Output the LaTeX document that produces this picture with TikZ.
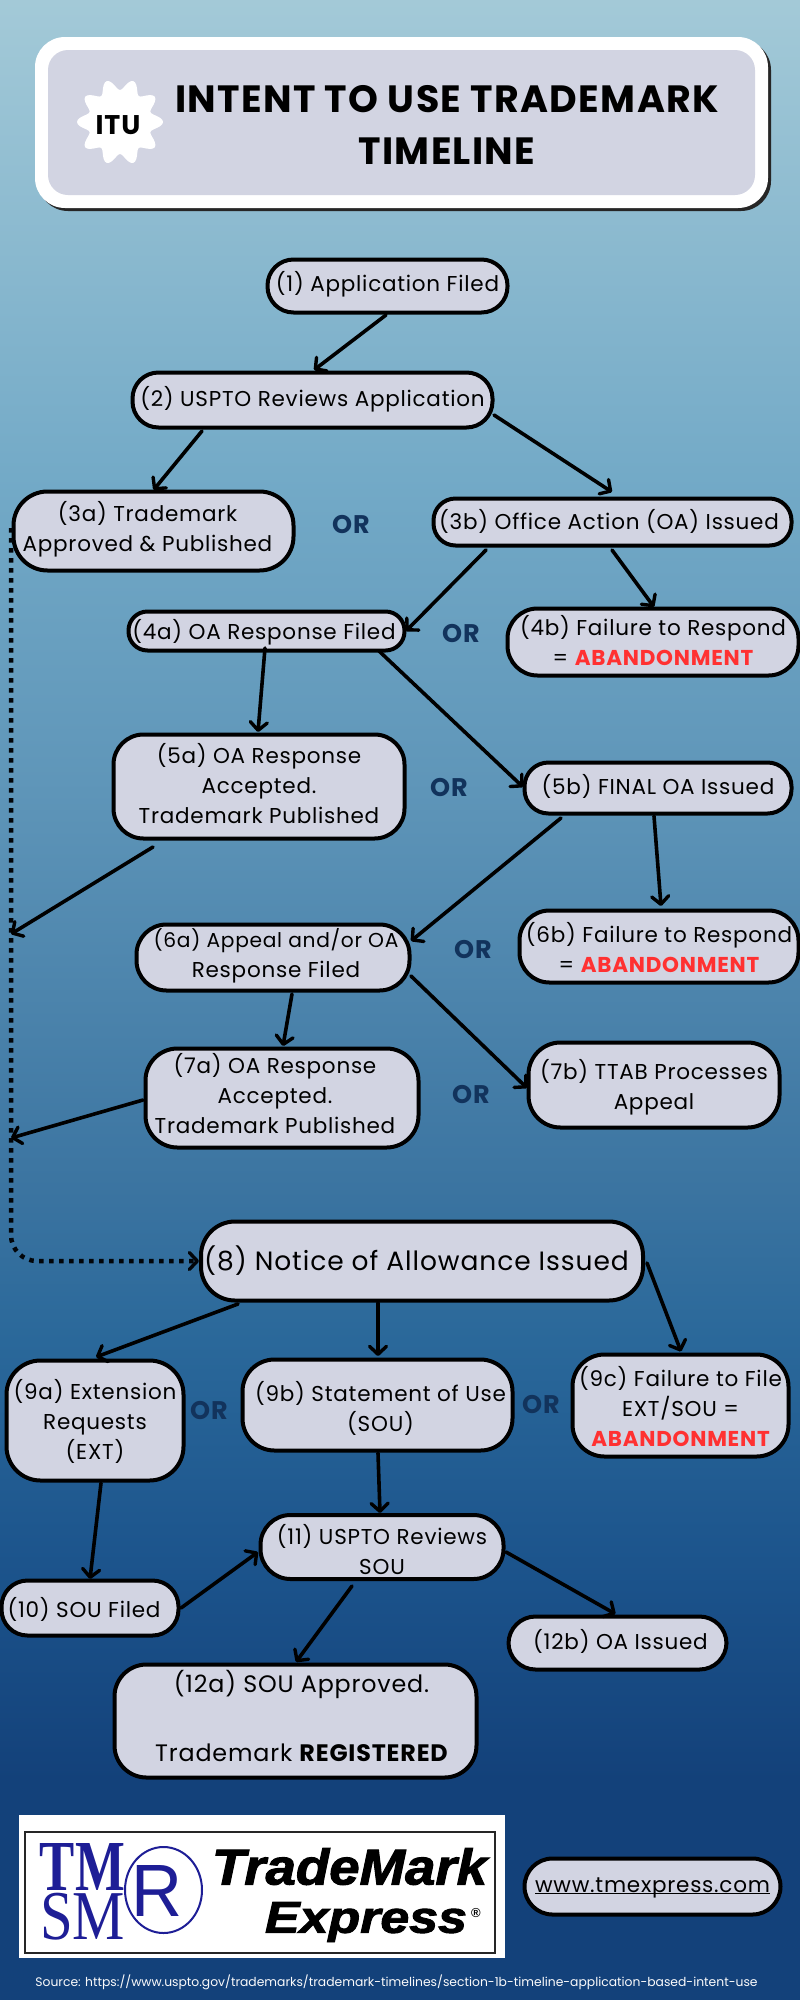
\documentclass[tikz,border=0pt]{standalone}
\usepackage{fontspec}
\usepackage{graphicx}
\setmainfont{Poppins}[LetterSpace=3.5]
\newfontfamily\plainpop{Poppins}
\newfontfamily\lgsans{Liberation Sans}
\newfontfamily\lgserif{Liberation Serif}
\usetikzlibrary{calc,arrows.meta}
\definecolor{boxfill}{HTML}{D2D4E2}
\definecolor{ornavy}{HTML}{12335C}
\definecolor{abred}{HTML}{FF3131}
\definecolor{logoblue}{HTML}{1E1E96}
\pgfdeclareverticalshading{bgshade}{100bp}{
 rgb(0bp)=(0.075,0.255,0.478);
 rgb(30.5bp)=(0.075,0.255,0.478);
 rgb(36bp)=(0.11,0.33,0.55);
 rgb(41.5bp)=(0.165,0.408,0.604);
 rgb(45bp)=(0.227,0.451,0.627);
 rgb(55.5bp)=(0.373,0.588,0.725);
 rgb(63bp)=(0.45,0.665,0.78);
 rgb(75bp)=(0.64,0.79,0.845);
 rgb(100bp)=(0.64,0.79,0.845)}
\tikzset{
 stepbox/.style={draw=black,line width=4pt,fill=boxfill,inner sep=0pt,align=center,text=black,text depth=10pt,
   font=\fontsize{21.5}{30}\selectfont},
 conn/.style={draw=black,line width=3.6pt,line cap=round,
   -{Straight Barb[length=8pt,width=17pt,line width=3.4pt,round]}},
 dotconn/.style={draw=black!90!ornavy,line width=4.5pt,dash pattern=on 4.5pt off 5.5pt,rounded corners=26pt,
   -{Straight Barb[length=8pt,width=17pt,line width=3.4pt,round]}},
 orlabel/.style={text=ornavy,font=\fontsize{25.5}{28}\selectfont\bfseries},
}
\newcommand{\dn}[1]{\rule{0pt}{\dimexpr 24pt+#1pt*2\relax}}
\newcommand{\hsh}[1]{\hspace*{\dimexpr #1pt*2\relax}}
\newcommand{\abn}{\textcolor{abred}{\bfseries ABANDONMENT}}
\begin{document}
\begin{tikzpicture}[x=1pt,y=-1pt]
\useasboundingbox (0,0) rectangle (800,2000);
\shade[shading=bgshade] (0,0) rectangle (800,2000);
% header
\fill[black!85,rounded corners=30pt] (38,40) rectangle (771,211);
\fill[white,rounded corners=30pt] (35,37) rectangle (768,208);
\fill[boxfill,rounded corners=20pt] (48,50) rectangle (755,195);
\fill[white] plot[domain=0:360,samples=121,smooth] ({120+(37.5+5.5*cos(10*\x))*cos(\x)},{122+(37.5+5.5*cos(10*\x))*sin(\x)});
\node[font=\fontsize{27}{30}\selectfont\bfseries,text=black,inner sep=0pt] (itu) at (118,125) {ITU};
\node[font=\fontsize{38}{52}\selectfont\bfseries,text=black,align=center,inner sep=0pt] (title) at (447,125) {INTENT TO USE TRADEMARK\\TIMELINE};
% nodes
\node[stepbox,rounded corners=26pt,minimum width=240pt,minimum height=53pt] (n1) at (387.5,286) {\dn{-2}(1) Application Filed};
\node[stepbox,rounded corners=26pt,minimum width=360pt,minimum height=55pt] (n2) at (312.5,400) {\dn{-1}(2) USPTO Reviews Application};
\node[stepbox,rounded corners=34pt,minimum width=280pt,minimum height=79pt] (n3a) at (153.5,531) {\dn{-3}\hsh{-6}(3a) Trademark\\\hsh{-6}Approved \& Published};
\node[stepbox,rounded corners=22pt,minimum width=358pt,minimum height=47pt] (n3b) at (612.5,522) {\dn{0}\hsh{-3.5}(3b) Office Action (OA) Issued};
\node[stepbox,rounded corners=19pt,minimum width=276pt,minimum height=39pt] (n4a) at (266.5,631) {\dn{1}\hsh{-2.5}(4a) OA Response Filed};
\node[stepbox,rounded corners=30pt,minimum width=291pt,minimum height=67pt] (n4b) at (653,642) {\dn{1}(4b) Failure to Respond\\= \abn};
\node[stepbox,rounded corners=30pt,minimum width=291pt,minimum height=104pt] (n5a) at (259,786.5) {\dn{0}(5a) OA Response\\Accepted.\\Trademark Published};
\node[stepbox,rounded corners=24pt,minimum width=267pt,minimum height=51pt] (n5b) at (658,788) {\dn{-1}(5b) FINAL OA Issued};
\node[stepbox,rounded corners=30pt,minimum width=273pt,minimum height=66pt] (n6a) at (273,957.5) {\dn{-2.5}\hsh{3}{\fontsize{20.2}{30}\selectfont (6a) Appeal and/or OA}\\\hsh{3}Response Filed};
\node[stepbox,rounded corners=30pt,minimum width=279pt,minimum height=72pt,text depth=6pt] (n6b) at (659,946.5) {\dn{2}(6b) Failure to Respond\\= \abn};
\node[stepbox,rounded corners=32pt,minimum width=273pt,minimum height=99pt] (n7a) at (282,1098) {\dn{-3.5}\hsh{-7}(7a) OA Response\\\hsh{-7}Accepted.\\\hsh{-7}Trademark Published};
\node[stepbox,rounded corners=32pt,minimum width=251pt,minimum height=85pt] (n7b) at (654,1085) {\dn{2}(7b) TTAB Processes\\Appeal};
\node[stepbox,rounded corners=34pt,minimum width=442pt,minimum height=79pt,font=\fontsize{26.5}{32}\selectfont] (n8) at (422,1261) {\dn{2.25}\hsh{-5.5}(8) Notice of Allowance Issued};
\node[stepbox,rounded corners=34pt,minimum width=177pt,minimum height=120pt] (n9a) at (95,1420.5) {\dn{1.5}(9a) Extension\\Requests\\(EXT)};
\node[stepbox,rounded corners=32pt,minimum width=270pt,minimum height=91pt] (n9b) at (377.5,1405) {\dn{4}\hsh{3}(9b) Statement of Use\\\hsh{3}(SOU)};
\node[stepbox,rounded corners=32pt,minimum width=216pt,minimum height=102pt] (n9c) at (680.5,1405.5) {\dn{4}(9c) Failure to File\\EXT/SOU =\\\abn};
\node[stepbox,rounded corners=30pt,minimum width=243pt,minimum height=64pt,text depth=0pt] (n11) at (382,1547) {\dn{0.5}(11) USPTO Reviews\\SOU};
\node[stepbox,rounded corners=26pt,minimum width=177pt,minimum height=55pt] (n10) at (90,1608) {\dn{2}\hsh{-6}(10) SOU Filed};
\node[stepbox,rounded corners=27pt,minimum width=218pt,minimum height=53pt] (n12b) at (617.5,1643) {\dn{-1}\hsh{3}(12b) OA Issued};
\node[stepbox,rounded corners=32pt,minimum width=362pt,minimum height=113pt,font=\fontsize{23.8}{30}\selectfont] (n12a) at (295.5,1721) {\dn{-2.5}\hsh{6}(12a) SOU Approved.\\[39pt]\hsh{6}Trademark {\bfseries REGISTERED}};
% OR labels
\node[orlabel] (or1) at (351,525) {OR};
\node[orlabel] (or2) at (461,634) {OR};
\node[orlabel] (or3) at (449,787) {OR};
\node[orlabel] (or4) at (473,949) {OR};
\node[orlabel] (or5) at (471,1094) {OR};
\node[orlabel] (or6) at (209,1410) {OR};
\node[orlabel] (or7) at (541,1404) {OR};
% free ends on the dotted line
\coordinate (m1) at (11,934);
\coordinate (m2) at (11,1138);
\coordinate (d0) at (11,528);
% connectors
\draw[dotconn] (d0) |- (n8.west);
\draw[conn] ($(n1)+(-1.5,29)$) -- ($(n2)+(1.5,-30)$);
\draw[conn] ($(n2)+(-110.5,31)$) -- ($(n3a)+(0,-41)$);
\draw[conn] ($(n2)+(181.5,15)$) -- ($(n3b)+(-0.5,-30)$);
\draw[conn] ($(n3b)+(-126.5,28)$) -- ($(n4a)+(139.5,0)$);
\draw[conn] ($(n3b)+(-0.5,28)$) -- ($(n4b)+(1,-35)$);
\draw[conn] ($(n4a)+(-1.5,17)$) -- ($(n5a)+(-1,-54.5)$);
\draw[conn] ($(n4a)+(112.5,20)$) -- ($(n5b)+(-135,-1)$);
\draw[conn] ($(n5a)+(-106,60.5)$) -- (m1);
\draw[conn] ($(n5b)+(-97,30)$) -- ($(n6a)+(138,-16.5)$);
\draw[conn] ($(n5b)+(-4,28)$) -- ($(n6b)+(2,-40.5)$);
\draw[conn] ($(n6a)+(19,36.5)$) -- ($(n7a)+(1,-52)$);
\draw[conn] ($(n6a)+(138,18.5)$) -- ($(n7b)+(-127,3)$);
\draw[conn] ($(n7a)+(-139,2)$) -- (m2);
\draw[conn] ($(n8)+(-184,43)$) -- ($(n9a)+(1,-63.5)$);
\draw[conn] ($(n8)+(-44,42)$) -- ($(n9b)+(0.5,-49)$);
\draw[conn] ($(n8)+(225,2)$) -- ($(n9c)+(0.5,-54)$);
\draw[conn] ($(n9a)+(6,62.5)$) -- ($(n10)+(0,-29)$);
\draw[conn] ($(n9b)+(0.5,48)$) -- ($(n11)+(-2,-34)$);
\draw[conn] ($(n10)+(91,0)$) -- ($(n11)+(-124,5)$);
\draw[conn] ($(n11)+(-30,39)$) -- ($(n12a)+(0.5,-59)$);
\draw[conn] ($(n11)+(124,5)$) -- ($(n12b)+(-2,-29)$);
% logo
\fill[white] (19,1815) rectangle (505,1958);
\draw[black!85,line width=2.5pt] (25,1832) rectangle (495,1953);
\node[inner sep=0pt,text=logoblue] (tm) at (82.5,1866.5) {\resizebox*{85pt}{47pt}{\lgserif\bfseries TM}};
\node[inner sep=0pt,text=logoblue] (sm) at (82.5,1916.5) {\resizebox*{85pt}{47pt}{\lgserif SM}};
\draw[logoblue,line width=2pt] (163.5,1890) ellipse [x radius=38.5pt,y radius=43pt];
\node[inner sep=0pt,text=logoblue] (rr) at (157.5,1890.5) {\resizebox*{51pt}{51pt}{\lgsans R}};
\node[inner sep=0pt,text=black] (tmk) at (349.5,1866.5) {\resizebox*{275pt}{37pt}{\lgsans\bfseries\itshape\addfontfeature{FakeBold=2}TradeMark}};
\node[inner sep=0pt,text=black] (exp) at (366,1922) {\resizebox*{202pt}{40pt}{\lgsans\bfseries\itshape\addfontfeature{FakeBold=2}Express}};
\node[inner sep=0pt,text=black] (reg) at (476,1913) {\fontsize{13}{13}\selectfont\lgsans\bfseries ®};
% www
\node[stepbox,rounded corners=28pt,minimum width=256pt,minimum height=56pt] (www) at (652.5,1886.5) {\dn{-1.5}\underline{\smash{www.tmexpress.com}}};
\node[inner sep=0pt,text=white!88!boxfill,font=\plainpop\fontsize{12.35}{15}\selectfont] (src) at (396.5,1982) {Source: https://www.uspto.gov/trademarks/trademark-timelines/section-1b-timeline-application-based-intent-use};
\end{tikzpicture}
\end{document}
